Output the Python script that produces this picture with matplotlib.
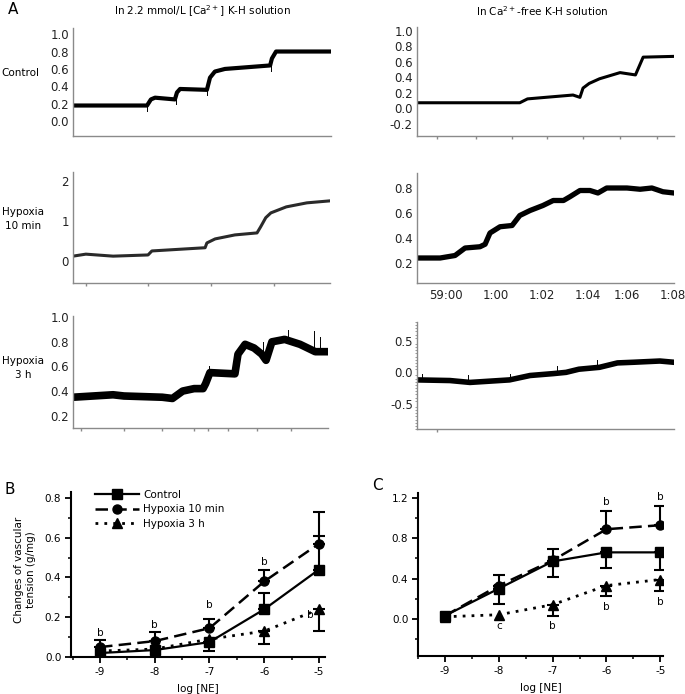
import matplotlib
matplotlib.use('Agg')
import matplotlib.pyplot as plt
import numpy as np
from matplotlib.ticker import MultipleLocator

plt.rcParams['mathtext.default'] = 'regular'

W, H = 685, 694

# ---- panel A traces (x in % of recording width, y in g) ----
ctrl_ca_x = [0, 28.7, 30.2, 31.8, 39.5, 40.3, 41.5, 51.9, 53.1, 55, 58.9, 76.4, 77.1, 78.7, 100]
ctrl_ca_y = [0.18, 0.18, 0.25, 0.27, 0.25, 0.33, 0.37, 0.36, 0.5, 0.57, 0.6, 0.64, 0.72, 0.8, 0.8]
ctrl_ca_spk_x = [28.5, 40.0, 52.0, 76.8]
ctrl_ca_spk_y = [0.12, 0.2, 0.3, 0.58]

ctrl_free_x = [0, 40, 43, 50, 60.7, 63.4, 64.6, 67, 71, 79, 83, 85, 88, 100]
ctrl_free_y = [0.07, 0.07, 0.12, 0.14, 0.17, 0.14, 0.26, 0.32, 0.38, 0.46, 0.44, 0.43, 0.66, 0.67]

h10_ca_x = [0, 5, 15.6, 29.2, 30.7, 51.4, 52.1, 55.3, 63, 71.6, 73, 75, 77, 83, 91, 100]
h10_ca_y = [0.12, 0.17, 0.12, 0.15, 0.25, 0.33, 0.45, 0.55, 0.65, 0.7, 0.85, 1.08, 1.2, 1.35, 1.45, 1.5]

h10_free_x = [0, 9, 14.8, 18.7, 24.5, 26.5, 28.4, 32.3, 37, 40, 44, 49, 53, 57, 59.5,
              63.4, 67.3, 70.4, 73.8, 81.7, 86.8, 91.4, 95.7, 100]
h10_free_y = [0.24, 0.24, 0.26, 0.32, 0.33, 0.35, 0.44, 0.49, 0.5, 0.58, 0.62, 0.66, 0.7, 0.7, 0.73,
              0.78, 0.78, 0.76, 0.8, 0.8, 0.79, 0.8, 0.77, 0.76]
h10_free_ticks = [11.3, 30.7, 48.6, 66.5, 81.7, 99.6]
h10_free_labels = ['59:00', '1:00', '1:02', '1:04', '1:06', '1:08']

h3_ca_x = [0, 15.7, 20, 35, 39, 43, 47.5, 51, 52, 53.7, 63.5, 64.7, 67.5, 71, 74, 75.7, 78, 83, 89, 95, 100]
h3_ca_y = [0.35, 0.37, 0.36, 0.35, 0.34, 0.40, 0.42, 0.42, 0.46, 0.55, 0.54, 0.7, 0.78, 0.75, 0.7, 0.65,
           0.8, 0.82, 0.78, 0.72, 0.72]
h3_ca_spk_x = [53.5, 74.5, 84.5, 94.5, 97]
h3_ca_spk_y = [0.6, 0.8, 0.9, 0.89, 0.84]

h3_free_x = [0, 12.8, 20.6, 36, 44, 53, 58, 63, 71, 78, 84, 94.5, 100]
h3_free_y = [-0.12, -0.13, -0.16, -0.12, -0.05, -0.02, 0.0, 0.05, 0.08, 0.15, 0.16, 0.18, 0.16]
h3_free_spk_x = [2, 20, 36, 54.5, 70]
h3_free_spk_y = [-0.02, -0.05, -0.02, 0.1, 0.2]

# ---- panels B and C ----
log_ne = [-9, -8, -7, -6, -5]
b_ctrl = [0.02, 0.035, 0.075, 0.24, 0.44]
b_ctrl_up = [0, 0, 0, 0.08, 0.17]
b_ctrl_dn = [0, 0, 0.045, 0, 0]
b_h10 = [0.05, 0.08, 0.145, 0.38, 0.57]
b_h10_up = [0.035, 0.045, 0.045, 0.06, 0.16]
b_h3 = [0.03, 0.04, 0.09, 0.13, 0.24]
b_h3_dn = [0, 0, 0, 0.065, 0.11]
b_sig_x = [-9, -8, -7, -6, -5.15]
b_sig_y = [0.12, 0.16, 0.26, 0.48, 0.21]
b_sig = ['b', 'b', 'b', 'b', 'b']

c_ctrl = [0.03, 0.30, 0.57, 0.66, 0.66]
c_ctrl_up = [0, 0, 0.12, 0, 0]
c_ctrl_dn = [0, 0.15, 0.15, 0.16, 0.18]
c_h10 = [0.03, 0.33, 0.58, 0.89, 0.93]
c_h10_up = [0, 0.11, 0, 0.18, 0.19]
c_h3 = [0.02, 0.04, 0.14, 0.33, 0.39]
c_h3_dn = [0, 0, 0.11, 0.1, 0.11]
c_sig_x = [-8, -7, -6, -5, -6, -5]
c_sig_y = [-0.07, -0.07, 0.12, 0.17, 1.16, 1.21]
c_sig = ['c', 'b', 'b', 'b', 'b', 'b']

fig = plt.figure(figsize=(6.85, 6.94), dpi=100)


def box(x0, y0, x1, y1):
    return [x0 / W, 1 - y1 / H, (x1 - x0) / W, (y1 - y0) / H]


def trace_axes(rect, xs, ys, ylim, yticks, ylabels, lw, xticks=(), spk=None, color='black'):
    ax = fig.add_axes(rect)
    ax.plot(xs, ys, color=color, lw=lw, solid_joinstyle='round')
    if spk is not None:
        for sx, sy in zip(*spk):
            ax.plot([sx, sx], [np.interp(sx, xs, ys), sy], color=color, lw=0.7)
    ax.set_xlim(0, 100)
    ax.set_ylim(*ylim)
    ax.set_yticks(yticks)
    ax.set_yticklabels(ylabels)
    ax.set_xticks(list(xticks))
    ax.set_xticklabels([])
    for s in ('top', 'right'):
        ax.spines[s].set_visible(False)
    for s in ('left', 'bottom'):
        ax.spines[s].set_color('#8a8a8a')
        ax.spines[s].set_linewidth(1.0)
    ax.tick_params(axis='y', length=0, pad=3, labelsize=8.5, colors='#222222')
    ax.tick_params(axis='x', length=2.5, width=1, colors='#8a8a8a', direction='out')
    return ax


trace_axes(box(73, 28, 331, 136), ctrl_ca_x, ctrl_ca_y, (-0.17, 1.07),
           [0, 0.2, 0.4, 0.6, 0.8, 1.0], ['0.0', '0.2', '0.4', '0.6', '0.8', '1.0'], 3.0,
           spk=(ctrl_ca_spk_x, ctrl_ca_spk_y))
trace_axes(box(417, 27, 674, 136), ctrl_free_x, ctrl_free_y, (-0.36, 1.05),
           [-0.2, 0, 0.2, 0.4, 0.6, 0.8, 1.0], ['-0.2', '0.0', '0.2', '0.4', '0.6', '0.8', '1.0'], 2.2,
           xticks=[7.8, 22.9, 37, 50.6, 64.6, 79, 93.4])
trace_axes(box(73, 172, 330, 283), h10_ca_x, h10_ca_y, (-0.55, 2.22),
           [0, 1, 2], ['0', '1', '2'], 2.2, xticks=[5, 29.2, 53.7, 78.2], color='#2a2a2a')
ax4 = trace_axes(box(417, 173, 674, 283), h10_free_x, h10_free_y, (0.04, 0.92),
                 [0.2, 0.4, 0.6, 0.8], ['0.2', '0.4', '0.6', '0.8'], 3.8)
ax4.set_xticks(h10_free_ticks)
ax4.set_xticklabels(h10_free_labels)
ax4.tick_params(axis='x', length=0, pad=4, labelsize=8.5, labelcolor='#222222')
trace_axes(box(73, 316, 328, 428), h3_ca_x, h3_ca_y, (0.1, 1.01),
           [0.2, 0.4, 0.6, 0.8, 1.0], ['0.2', '0.4', '0.6', '0.8', '1.0'], 5.5,
           xticks=[3.1, 20, 34.9, 47.5, 52.9, 60.8, 72.2, 85.5], spk=(h3_ca_spk_x, h3_ca_spk_y))
ax6 = trace_axes(box(417, 322, 674, 429), h3_free_x, h3_free_y, (-0.9, 0.8),
                 [-0.5, 0, 0.5], ['-0.5', '0.0', '0.5'], 4.0, xticks=[7.8],
                 spk=(h3_free_spk_x, h3_free_spk_y))
ax6.yaxis.set_minor_locator(MultipleLocator(0.05))
ax6.tick_params(axis='y', which='minor', length=1.5, color='#8a8a8a')

fig.text(8 / W, 1 - 10 / H, 'A', fontsize=11, va='center', ha='left')
fig.text(202 / W, 1 - 11 / H, 'In 2.2 mmol/L [Ca$^{2+}$] K-H solution', fontsize=7.5, ha='center', va='center')
fig.text(542 / W, 1 - 11 / H, 'In Ca$^{2+}$-free K-H solution', fontsize=7.5, ha='center', va='center')
fig.text(20 / W, 1 - 73 / H, 'Control', fontsize=7.5, ha='center', va='center')
fig.text(23 / W, 1 - 219 / H, 'Hypoxia\n10 min', fontsize=7.5, ha='center', va='center', linespacing=1.5)
fig.text(23 / W, 1 - 368 / H, 'Hypoxia\n3 h', fontsize=7.5, ha='center', va='center', linespacing=1.5)

DASH = (5, 2.5)
DOT = (1.0, 2.2)


def bars(ax, y, up, dn):
    x = np.array(log_ne, dtype=float)
    y = np.array(y, dtype=float)
    up = np.array(up, dtype=float)
    dn = np.array(dn, dtype=float)
    m = up > 0
    if m.any():
        ax.errorbar(x[m], y[m], yerr=[np.zeros(m.sum()), up[m]], fmt='none', ecolor='black',
                    elinewidth=1.5, capsize=4, capthick=1.5)
    m = dn > 0
    if m.any():
        ax.errorbar(x[m], y[m], yerr=[dn[m], np.zeros(m.sum())], fmt='none', ecolor='black',
                    elinewidth=1.5, capsize=4, capthick=1.5)


def dose_axes(rect, ctrl, h10, h3, errs, ylim, major, minor, xlim):
    ax = fig.add_axes(rect)
    for y, up, dn in errs:
        bars(ax, y, up, dn)
    ax.plot(log_ne, ctrl, '-', color='black', lw=1.6, marker='s', ms=6.5, label='Control')
    ax.plot(log_ne, h10, color='black', lw=1.8, marker='o', ms=6.5, dashes=DASH, label='Hypoxia 10 min')
    ax.plot(log_ne, h3, color='black', lw=2.0, marker='^', ms=6.5, dashes=DOT, label='Hypoxia 3 h')
    ax.set_xlim(*xlim)
    ax.set_ylim(*ylim)
    ax.set_xticks(log_ne)
    ax.set_xticklabels(['-9', '-8', '-7', '-6', '-5'])
    ax.xaxis.set_minor_locator(MultipleLocator(0.5))
    ax.yaxis.set_major_locator(MultipleLocator(major))
    ax.yaxis.set_minor_locator(MultipleLocator(minor))
    ax.yaxis.set_major_formatter(matplotlib.ticker.FormatStrFormatter('%.1f'))
    for s in ('top', 'right'):
        ax.spines[s].set_visible(False)
    for s in ('left', 'bottom'):
        ax.spines[s].set_linewidth(1.5)
    ax.tick_params(which='major', length=4, width=1.3, labelsize=7.5, pad=3)
    ax.tick_params(which='minor', length=2.5, width=1.1)
    ax.set_xlabel('log [NE]', fontsize=7.5, labelpad=5)
    return ax


axb = dose_axes(box(71, 492, 325, 657), b_ctrl, b_h10, b_h3,
                [(b_ctrl, b_ctrl_up, b_ctrl_dn), (b_h10, b_h10_up, [0] * 5), (b_h3, [0] * 5, b_h3_dn)],
                (0, 0.83), 0.2, 0.1, (-9.53, -4.89))
for sx, sy, s in zip(b_sig_x, b_sig_y, b_sig):
    axb.text(sx, sy, s, fontsize=7.5, ha='center', va='center')
axb.legend(loc='upper left', bbox_to_anchor=(0.08, 1.04), frameon=False, fontsize=7.5,
           handlelength=4.2, handletextpad=0.4, labelspacing=0.45, borderaxespad=0)

axc = dose_axes(box(418, 493, 663, 656), c_ctrl, c_h10, c_h3,
                [(c_ctrl, c_ctrl_up, c_ctrl_dn), (c_h10, c_h10_up, [0] * 5), (c_h3, [0] * 5, c_h3_dn)],
                (-0.37, 1.25), 0.4, 0.2, (-9.5, -4.95))
for sx, sy, s in zip(c_sig_x, c_sig_y, c_sig):
    axc.text(sx, sy, s, fontsize=7.5, ha='center', va='center')

fig.text(25 / W, 1 - 570 / H, 'Changes of vascular\ntension (g/mg)', fontsize=7.5, rotation=90,
         ha='center', va='center', multialignment='center')
fig.text(5 / W, 1 - 490 / H, 'B', fontsize=11, ha='left', va='center')
fig.text(372 / W, 1 - 486 / H, 'C', fontsize=11, ha='left', va='center')

fig.savefig('out.png', dpi=100)
